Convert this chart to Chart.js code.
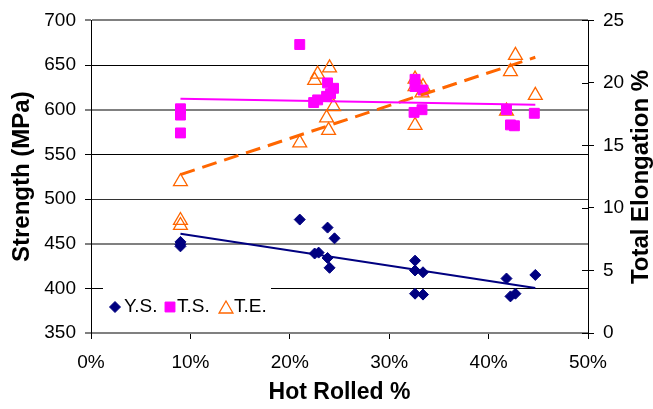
<!DOCTYPE html>
<html>
<head>
<meta charset="utf-8">
<script src="https://cdn.jsdelivr.net/npm/chart.js@4"></script>
<style>
  html, body { margin: 0; padding: 0; background: #fff; }
  #wrap { width: 653px; height: 409px; position: relative; }
</style>
</head>
<body>
<div id="wrap"><canvas id="chart"></canvas></div>
<script>
// === Data ===
const ysX = [9.0, 9.0, 9.0, 21.0, 22.5, 22.9, 23.8, 24.5, 23.8, 24.0, 32.6, 32.6, 33.4, 32.6, 33.4, 41.8, 42.2, 42.7, 44.7];
const ysY = [452, 449, 447, 477, 439, 440, 468, 456, 434, 423, 431, 420, 418, 394, 393, 411, 391, 394, 415];

const tsX = [9.0, 9.0, 9.0, 21.0, 22.4, 22.8, 23.8, 24.4, 23.7, 24.1, 32.6, 32.6, 33.4, 32.5, 33.3, 41.8, 42.2, 42.6, 44.6];
const tsY = [601, 594, 574, 673, 608, 611, 630, 624, 615, 618, 634, 626, 622, 597, 600, 600, 583, 582, 596];

const teX = [9.0, 9.0, 9.0, 21.0, 22.5, 22.8, 24.0, 24.4, 23.7, 23.9, 32.6, 32.6, 33.4, 33.3, 32.6, 42.7, 42.2, 44.7, 41.8];
const teY = [12.1, 9.0, 8.6, 15.2, 20.2, 20.7, 21.2, 18.1, 17.2, 16.2, 20.3, 19.7, 19.7, 19.2, 16.6, 22.2, 20.9, 19.0, 17.75];

// trend line end points
const trendX   = [9.0, 44.7];
const ysTrend  = [461, 400.5];
const tsTrend  = [612.2, 605.5];
const teTrend  = [12.67, 22.05];

const xTicks  = [0, 10, 20, 30, 40, 50];
const legendLabels = ['Y.S.', 'T.S.', 'T.E.'];

const NAVY = '#000080', MAGENTA = '#FF00FF', ORANGE = '#FF6600';
const FONT = "'Liberation Sans', Arial, sans-serif";
Chart.defaults.font.family = FONT;
Chart.defaults.color = '#000';

const pts = (xs, ys) => xs.map((x, i) => ({ x: x, y: ys[i] }));

// === Grid line look per tick (some look soft grey, some crisp black) ===
const gridLook = {
  350: ['#808080', 2], 400: ['#000', 1], 450: ['#808080', 2], 500: ['#333', 1],
  550: ['#000', 1], 600: ['#808080', 2], 650: ['#000', 1], 700: ['#808080', 2]
};

// === Legend + right title + inner ticks on the right axis ===
const extras = {
  id: 'extras',
  afterDatasetsDraw(chart) {
    const ctx = chart.ctx;
    const y2 = chart.scales.y2;
    ctx.save();

    // inner half of the right-axis tick marks
    ctx.strokeStyle = '#000';
    ctx.lineWidth = 1;
    y2.ticks.forEach(t => {
      const py = Math.round(y2.getPixelForValue(t.value)) + 0.5;
      ctx.beginPath();
      ctx.moveTo(y2.left - 6, py);
      ctx.lineTo(y2.left, py);
      ctx.stroke();
    });

    // legend box inside the plot
    ctx.fillStyle = '#fff';
    ctx.fillRect(103, 283, 168, 44);
    const ly = 307;
    const styles = [
      { pointStyle: 'rectRot', radius: 5.5, borderWidth: 1, backgroundColor: NAVY, borderColor: NAVY },
      { pointStyle: 'rect', radius: 7, borderWidth: 1, backgroundColor: MAGENTA, borderColor: MAGENTA },
      { pointStyle: 'triangle', radius: 8, borderWidth: 1.3, backgroundColor: 'rgba(0,0,0,0)', borderColor: ORANGE }
    ];
    const symX = [115, 170, 226];
    const txtX = [124, 177, 234];
    ctx.font = '19px ' + FONT;
    ctx.textBaseline = 'middle';
    ctx.textAlign = 'left';
    legendLabels.forEach((lab, i) => {
      const s = styles[i];
      ctx.fillStyle = s.backgroundColor;
      ctx.strokeStyle = s.borderColor;
      ctx.lineWidth = s.borderWidth;
      Chart.helpers.drawPoint(ctx, s, symX[i], i === 2 ? ly + 2 : ly);
      ctx.fillStyle = '#000';
      ctx.fillText(lab, txtX[i], ly);
    });

    // right axis title reads bottom to top like the left one
    ctx.translate(641, 177);
    ctx.rotate(-Math.PI / 2);
    ctx.font = 'bold 24px ' + FONT;
    ctx.textAlign = 'center';
    ctx.fillStyle = '#000';
    ctx.fillText('Total Elongation %', 0, 0);
    ctx.restore();
  }
};

// === Chart ===
const ctx = document.getElementById('chart').getContext('2d');
new Chart(ctx, {
  type: 'scatter',
  data: {
    datasets: [
      { label: 'YS trend', data: pts(trendX, ysTrend), type: 'line', yAxisID: 'y',
        borderColor: NAVY, borderWidth: 2, pointRadius: 0, fill: false },
      { label: 'TS trend', data: pts(trendX, tsTrend), type: 'line', yAxisID: 'y',
        borderColor: MAGENTA, borderWidth: 2, pointRadius: 0, fill: false },
      { label: 'TE trend', data: pts(trendX, teTrend), type: 'line', yAxisID: 'y2',
        borderColor: ORANGE, borderWidth: 3, borderDash: [15, 8], pointRadius: 0, fill: false },
      { label: legendLabels[0], data: pts(ysX, ysY), yAxisID: 'y',
        pointStyle: 'rectRot', pointRadius: 5.5, backgroundColor: NAVY, borderColor: NAVY, borderWidth: 1 },
      { label: legendLabels[1], data: pts(tsX, tsY), yAxisID: 'y',
        pointStyle: 'rect', pointRadius: 7, backgroundColor: MAGENTA, borderColor: MAGENTA, borderWidth: 1 },
      { label: legendLabels[2], data: pts(teX, teY), yAxisID: 'y2',
        pointStyle: 'triangle', pointRadius: 8, backgroundColor: 'rgba(0,0,0,0)', borderColor: ORANGE, borderWidth: 1.3 }
    ]
  },
  options: {
    responsive: true, maintainAspectRatio: false,
    animation: false,
    layout: { padding: { top: 16, left: 0, right: 0, bottom: 0 } },
    plugins: { legend: { display: false }, tooltip: { enabled: false } },
    scales: {
      x: {
        type: 'linear', min: 0, max: 50,
        afterBuildTicks: s => { s.ticks = xTicks.map(v => ({ value: v })); },
        afterFit: s => { s.height = 76; },
        ticks: { font: { size: 19 }, padding: 12, callback: v => v + '%', maxRotation: 0 },
        grid: { drawOnChartArea: false, tickLength: 6, color: '#000' },
        border: { color: '#808080', width: 2 },
        title: { display: true, text: 'Hot Rolled %', font: { size: 23, weight: 'bold' }, padding: { top: 0, bottom: 3 } }
      },
      y: {
        position: 'left', min: 350, max: 700,
        ticks: { stepSize: 50, font: { size: 19 }, padding: 9 },
        afterFit: s => { s.width = 91; },
        grid: {
          tickLength: 6,
          color: c => (gridLook[c.tick && c.tick.value] || ['#000', 1])[0],
          lineWidth: c => (gridLook[c.tick && c.tick.value] || ['#000', 1])[1],
          tickColor: '#000', tickWidth: 1
        },
        border: { color: '#000', width: 1 },
        title: { display: true, text: 'Strength (MPa)', font: { size: 24, weight: 'bold' }, padding: { top: 8, bottom: 0 } }
      },
      y2: {
        position: 'right', min: 0, max: 25,
        ticks: { stepSize: 5, font: { size: 19 }, padding: 9 },
        afterFit: s => { s.width = 65; },
        grid: { drawOnChartArea: false, tickLength: 6, color: '#000' },
        border: { color: '#000', width: 1 }
      }
    }
  },
  plugins: [extras]
});
</script>
</body>
</html>
